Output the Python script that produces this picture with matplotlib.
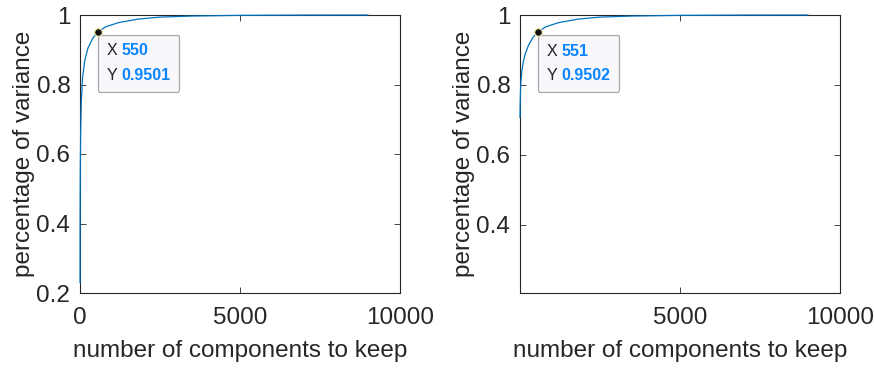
import matplotlib.pyplot as plt
from matplotlib.offsetbox import TextArea, HPacker, VPacker, AnnotationBbox

plt.rcParams["font.family"] = ["Liberation Sans", "DejaVu Sans"]

# cumulative variance curves
left_n = [1, 3, 6, 10, 20, 40, 80, 150, 250, 400, 550, 800, 1200, 1800,
          2500, 3500, 5000, 7000, 9000]
left_var = [0.23, 0.40, 0.50, 0.57, 0.66, 0.75, 0.82, 0.87, 0.905, 0.933,
            0.9501, 0.966, 0.978, 0.988, 0.994, 0.997, 0.999, 0.9998, 1.0]

right_n = [1, 5, 15, 30, 60, 100, 170, 260, 400, 551, 800, 1200, 1800,
           2500, 3500, 5000, 7000, 9000]
right_var = [0.707, 0.74, 0.78, 0.81, 0.84, 0.865, 0.89, 0.912, 0.935,
             0.9502, 0.966, 0.978, 0.988, 0.994, 0.997, 0.999, 0.9998, 1.0]

left_tip = (550, 0.9501)
right_tip = (551, 0.9502)

LINE = (0, 0.447, 0.741)
TIP_BLUE = "#0a84ff"
AXIS = "#262626"

fig = plt.figure(figsize=(8.74, 3.68), dpi=100)
ax1 = fig.add_axes([80 / 874, 75 / 368, 320 / 874, 278 / 368])
ax2 = fig.add_axes([520 / 874, 75 / 368, 320 / 874, 278 / 368])


def datatip(ax, x, y):
    rows = []
    for name, val in (("X", f"{x}"), ("Y", f"{y:.4f}")):
        rows.append(HPacker(children=[
            TextArea(name, textprops=dict(color="#222222", fontsize=11.5)),
            TextArea(val, textprops=dict(color=TIP_BLUE, fontsize=11.5,
                                         fontweight="bold")),
        ], pad=0, sep=3))
    box = VPacker(children=rows, pad=0, sep=7, align="left")
    ab = AnnotationBbox(box, (x, y), xybox=(6.5, -8),
                        xycoords="data", boxcoords="offset points",
                        box_alignment=(0, 1), frameon=True, pad=0.6,
                        bboxprops=dict(boxstyle="round,pad=0.6,rounding_size=0.15",
                                       fc="#f8f8fc", ec="#a8a8a8", lw=0.9),
                        zorder=6)
    ax.add_artist(ab)
    ax.plot([x], [y], "o", ms=5.5, mfc="#111111", mec="#f2e9a0",
            mew=0.8, zorder=7)


for ax, n, v, tip in ((ax1, left_n, left_var, left_tip),
                      (ax2, right_n, right_var, right_tip)):
    ax.plot(n, v, color=LINE, lw=0.9, zorder=3, clip_on=False)
    datatip(ax, *tip)
    ax.set_xlabel("number of components to keep", fontsize=17.5, color=AXIS,
                  labelpad=8)
    ax.set_ylabel("percentage of variance", fontsize=17.5, color=AXIS,
                  labelpad=1)
    ax.tick_params(direction="in", length=4, width=0.6, top=True,
                   right=True, labelsize=17.5, colors=AXIS)
    ax.tick_params(axis="x", pad=10)
    ax.tick_params(axis="y", pad=7)
    for s in ax.spines.values():
        s.set_color(AXIS)
        s.set_linewidth(0.8)

ax1.set_xlim(0, 10000)
ax1.set_ylim(0.2, 1)
ax1.set_xticks([0, 5000, 10000])
ax1.set_xticklabels(["0", "5000", "10000"])
ax1.set_yticks([0.2, 0.4, 0.6, 0.8, 1.0])
ax1.set_yticklabels(["0.2", "0.4", "0.6", "0.8", "1"])

ax2.set_xlim(1, 10000)
ax2.set_ylim(0.205, 1)
ax2.set_xticks([5000, 10000])
ax2.set_xticklabels(["5000", "10000"])
ax2.set_yticks([0.4, 0.6, 0.8, 1.0])
ax2.set_yticklabels(["0.4", "0.6", "0.8", "1"])

fig.savefig("out.png", dpi=100)
